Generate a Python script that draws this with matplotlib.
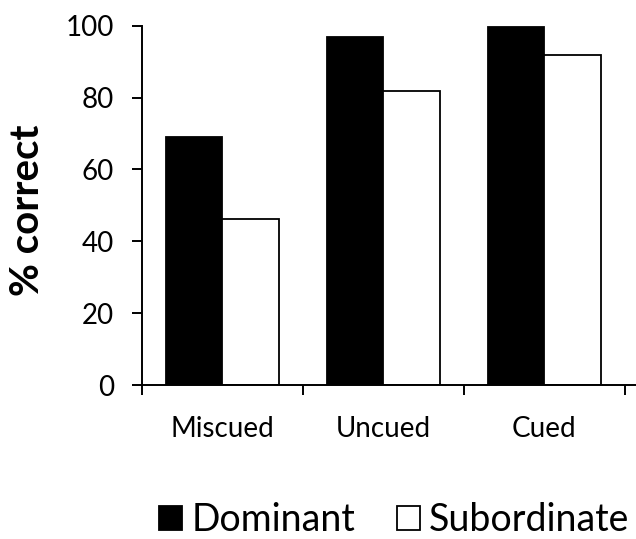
import matplotlib
matplotlib.use("Agg")
import matplotlib.pyplot as plt
import numpy as np

# data
conditions = ["Miscued", "Uncued", "Cued"]
dominant = [69.1, 96.8, 99.7]
subordinate = [46.3, 81.9, 91.8]

plt.rcParams['font.family'] = ['Lato', 'DejaVu Sans']

fig = plt.figure(figsize=(6.36, 5.39), dpi=100)
ax = fig.add_axes([0.2233, 0.2857, 0.7767, 0.6666])

x = np.arange(len(conditions))
w = 0.35
ax.bar(x - w / 2, dominant, w, color="black", edgecolor="black", linewidth=1.3, label="Dominant")
ax.bar(x + w / 2, subordinate, w, color="white", edgecolor="black", linewidth=1.3, label="Subordinate")

ax.set_ylim(0, 100)
ax.set_xlim(-0.5, 2.57)
ax.set_yticks(range(0, 101, 20))
ax.tick_params(axis='y', labelsize=20, length=7, width=1.4, direction='out', pad=13)

# category dividers as ticks, labels centred between them
ax.set_xticks([-0.5, 0.5, 1.5, 2.5])
ax.set_xticklabels([])
ax.set_xticks(x, minor=True)
ax.set_xticklabels(conditions, minor=True, fontsize=20)
ax.tick_params(axis='x', which='major', length=7, width=1.4, direction='out')
ax.tick_params(axis='x', which='minor', length=0, pad=22)

for s in ['top', 'right']:
    ax.spines[s].set_visible(False)
ax.spines['left'].set_linewidth(1.4)
ax.spines['bottom'].set_linewidth(1.4)

ax.set_ylabel("% correct", fontsize=29, fontweight='bold', va='center')
ax.yaxis.set_label_coords(-0.232, 0.485)

fig.legend(loc='center', bbox_to_anchor=(0.62, 0.035), ncol=2, frameon=False,
           fontsize=27, handlelength=0.62, handleheight=0.62, handletextpad=0.25,
           columnspacing=1.1, borderpad=0)

fig.savefig("out.png", dpi=100)
